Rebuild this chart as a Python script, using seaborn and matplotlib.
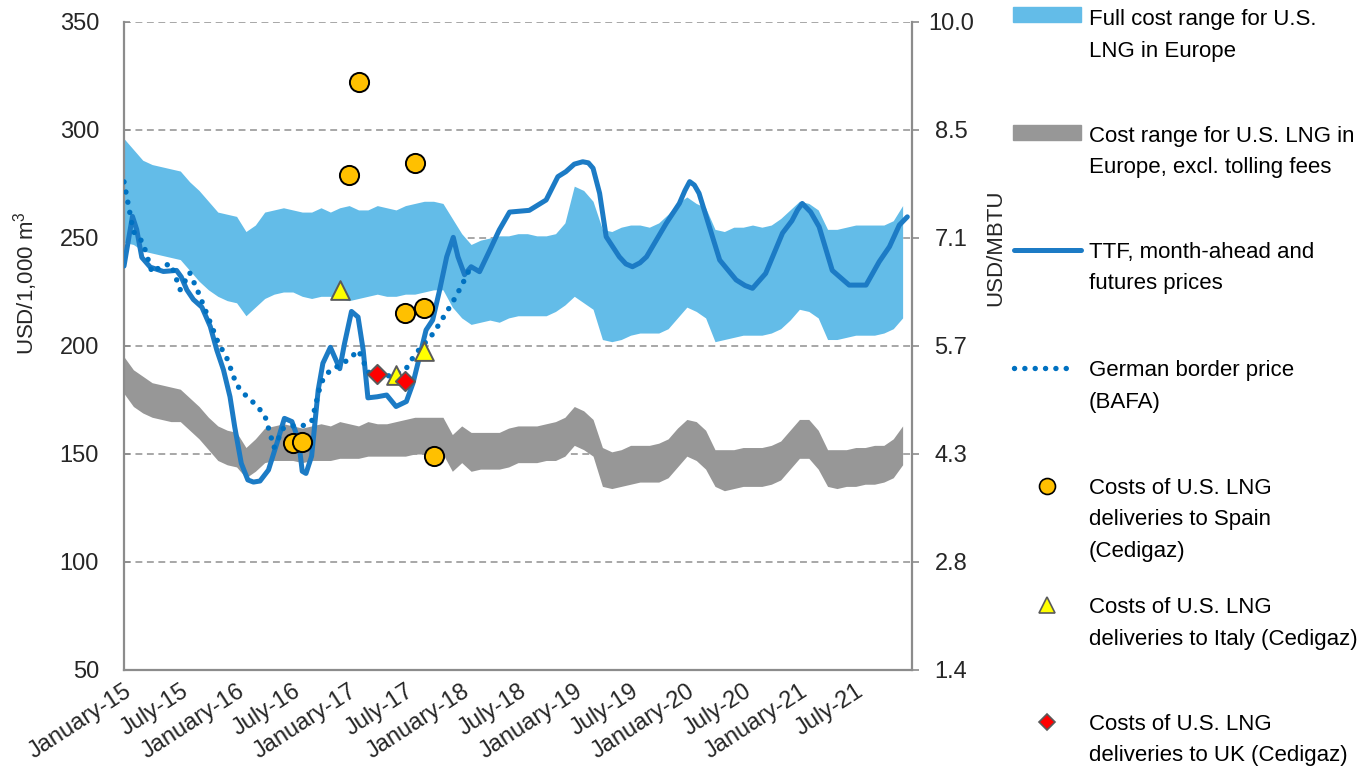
import numpy as np
import pandas as pd
import matplotlib
matplotlib.use('Agg')
import matplotlib.pyplot as plt
import seaborn as sns
from matplotlib import font_manager
from matplotlib.lines import Line2D
from matplotlib.patches import Rectangle

# month index: 0 = January 2015
band_month = list(range(84))

full_cost_high = [296, 291, 286, 284, 283, 282, 281, 276, 272, 267,
                  262, 261, 260, 253, 256, 262, 263, 264, 263, 262,
                  262, 264, 262, 264, 265, 263, 263, 265, 264, 263,
                  265, 266, 267, 267, 266, 259, 252, 247, 249, 250,
                  251, 251, 252, 252, 251, 251, 252, 257, 274, 272,
                  267, 254, 253, 255, 256, 256, 255, 257, 261, 266,
                  269, 266, 264, 254, 253, 255, 255, 256, 255, 256,
                  259, 263, 267, 266, 263, 254, 254, 255, 256, 256,
                  256, 256, 258, 265]
full_cost_low = [248, 247, 244, 243, 242, 241, 240, 235, 230, 226,
                 223, 221, 220, 214, 218, 222, 224, 225, 225, 223,
                 222, 223, 223, 222, 221, 222, 223, 224, 223, 223,
                 224, 224, 225, 226, 226, 218, 213, 210, 211, 212,
                 211, 213, 214, 214, 214, 214, 216, 219, 223, 220,
                 217, 203, 202, 203, 205, 206, 206, 206, 208, 213,
                 218, 216, 213, 202, 203, 204, 205, 205, 205, 206,
                 208, 212, 217, 216, 213, 203, 203, 204, 205, 205,
                 205, 206, 208, 213]
excl_toll_high = [195, 189, 186, 183, 182, 181, 180, 176, 172, 167,
                  163, 161, 160, 153, 157, 162, 163, 164, 163, 162,
                  163, 164, 163, 165, 164, 163, 165, 164, 164, 165,
                  166, 167, 167, 167, 167, 159, 163, 160, 160, 160,
                  160, 162, 163, 163, 163, 164, 165, 167, 172, 170,
                  166, 153, 151, 152, 154, 154, 154, 155, 157, 162,
                  166, 165, 161, 152, 152, 152, 153, 153, 153, 154,
                  156, 161, 166, 166, 161, 152, 152, 152, 153, 153,
                  154, 154, 157, 163]
excl_toll_low = [178, 172, 169, 167, 166, 165, 165, 161, 157, 152,
                 147, 145, 144, 139, 142, 146, 147, 147, 147, 146,
                 147, 147, 147, 148, 148, 148, 149, 149, 149, 149,
                 149, 150, 150, 150, 150, 142, 146, 142, 143, 143,
                 143, 144, 146, 146, 146, 147, 147, 149, 154, 152,
                 149, 135, 134, 135, 136, 137, 137, 137, 139, 144,
                 149, 147, 143, 135, 133, 134, 135, 135, 135, 136,
                 138, 143, 148, 148, 143, 135, 134, 135, 135, 136,
                 136, 137, 139, 145]

ttf_month = [0.0, 0.9, 1.35, 1.9, 2.8, 4.2, 5.6, 6.1, 6.7, 7.4, 8.3, 9.2, 9.9,
             10.6, 11.3, 11.8, 12.5, 13.2, 13.8, 14.5, 15.4, 16.3, 17.1, 17.9,
             18.6, 19.0, 19.4, 20.0, 20.7, 21.2, 22.0, 23.0, 23.5, 24.25,
             24.95, 25.5, 26.0, 27.0, 28.0, 29.0, 30.1, 30.8, 31.5, 32.2,
             32.9, 33.65, 34.4, 35.1, 35.6, 36.3, 37.0, 37.9, 39.0, 40.0,
             41.1, 43.2, 45.0, 46.25, 47.1, 48.0, 48.9, 49.5, 50.0, 50.7,
             51.4, 52.8, 53.5, 54.2, 55.0, 55.7, 57.8, 59.2, 59.8, 60.3,
             60.8, 61.3, 62.4, 63.5, 65.25, 66.2, 67.0, 68.4, 70.2, 71.2,
             71.8, 72.3, 73.2, 74.1, 75.5, 77.3, 79.1, 80.5, 81.6, 82.65, 83.5]
ttf_price = [237, 260, 254, 241, 236.5, 234.5, 235, 232, 226, 221.5, 218, 209, 198,
             189, 176.5, 162.6, 145.7, 138, 137, 137.5, 142.6, 155, 166.5, 165,
             156.5, 142, 141, 149, 179.6, 192, 199.4, 189.5, 201, 216,
             213.4, 198, 176, 176.5, 177.3, 172, 174.3, 182.7, 195, 207.4,
             212, 226, 241.3, 250.3, 241.3, 233, 236.7, 234.4, 244.4, 253.7,
             262, 262.8, 267.6, 278.4, 280.7, 284.2, 285.3, 284.8, 282.3, 270.7,
             250.6, 241.3, 238, 236.7, 238.5, 241.3, 256.8, 266, 272, 276.1,
             274.5, 270.7, 255.2, 239.8, 230.6, 228, 226.7, 233.6, 252.3, 258,
             263, 266, 262, 255.2, 235, 228.2, 228.2, 239, 246, 256, 259.8]

bafa_month = list(range(38))
bafa_price = [276, 253, 248, 234, 237, 238, 226, 234, 224, 213,
              202, 194, 182, 177, 173, 168, 153, 162, 163, 163,
              165, 183, 189, 191, 194, 198, 188, 186, 186, 187,
              189, 196, 201, 206, 213, 220, 228, 237]

spain_month = [18, 19, 24, 25, 30, 31, 32, 33]
spain_cost = [154.9, 155.4, 279.2, 322.2, 215.5, 284.6, 217.4, 149.1]
italy_month = [23, 29, 32]
italy_cost = [226.1, 186.5, 197.5]
uk_month = [27, 30]
uk_cost = [187.0, 183.8]

tick_month = list(range(0, 85, 6))
tick_labels = ['January-15', 'July-15', 'January-16', 'July-16', 'January-17',
               'July-17', 'January-18', 'July-18', 'January-19', 'July-19',
               'January-20', 'July-20', 'January-21', 'July-21', '']
left_ticks = [50, 100, 150, 200, 250, 300, 350]
right_labels = ['1.4', '2.8', '4.3', '5.7', '7.1', '8.5', '10.0']

legend_labels = [
    ['Full cost range for U.S.', 'LNG in Europe'],
    ['Cost range for U.S. LNG in', 'Europe, excl. tolling fees'],
    ['TTF, month-ahead and', 'futures prices'],
    ['German border price', '(BAFA)'],
    ['Costs of U.S. LNG', 'deliveries to Spain', '(Cedigaz)'],
    ['Costs of U.S. LNG', 'deliveries to Italy (Cedigaz)'],
    ['Costs of U.S. LNG', 'deliveries to UK (Cedigaz)'],
]

light_blue = '#63BCE8'
band_gray = '#979797'
ttf_blue = '#1C7BC5'
bafa_blue = '#0071C1'
axis_gray = '#8C8C8C'


def pick_font():
    for fam in ['Liberation Sans Narrow', 'Arial Narrow']:
        try:
            font_manager.findfont(font_manager.FontProperties(family=fam),
                                  fallback_to_default=False)
            return fam, 20, 20
        except ValueError:
            pass
    return 'Liberation Sans', 16, 17


sns.set_style('white')
font_name, fsize, tsize = pick_font()
plt.rcParams['font.family'] = [font_name, 'DejaVu Sans']
plt.rcParams['font.size'] = fsize
plt.rcParams['mathtext.fontset'] = 'custom'
plt.rcParams['mathtext.rm'] = font_name

W, H = 1365, 770
fig = plt.figure(figsize=(W / 100, H / 100), dpi=100)
ax = fig.add_axes([124 / W, 1 - 670 / H, (912 - 124) / W, (670 - 22) / H])

bands = pd.DataFrame({'month': band_month,
                      'full_high': full_cost_high, 'full_low': full_cost_low,
                      'excl_high': excl_toll_high, 'excl_low': excl_toll_low})
ax.fill_between(bands['month'], bands['full_low'], bands['full_high'],
                color=light_blue, lw=0, zorder=2)
ax.fill_between(bands['month'], bands['excl_low'], bands['excl_high'],
                color=band_gray, lw=0, zorder=2)

sns.lineplot(x=ttf_month, y=ttf_price, ax=ax, color=ttf_blue, lw=3.6,
             solid_joinstyle='round', solid_capstyle='round', zorder=3)
sns.lineplot(x=bafa_month, y=bafa_price, ax=ax, color=bafa_blue, lw=3.9,
             linestyle=(0, (0.01, 1.9)), dash_capstyle='round', zorder=4)

sns.scatterplot(x=spain_month, y=spain_cost, ax=ax, marker='o', s=13.8 ** 2,
                color='#FFC000', edgecolor='black', linewidth=1.4, zorder=5)
sns.scatterplot(x=italy_month, y=italy_cost, ax=ax, marker='^', s=13.5 ** 2,
                color='#FFFF00', edgecolor='#5A5A5A', linewidth=1.4, zorder=5)
sns.scatterplot(x=uk_month, y=uk_cost, ax=ax, marker='D', s=9.8 ** 2,
                color='#FF0000', edgecolor='#5A5A5A', linewidth=1.4, zorder=6)

ax.set_xlim(0, 84)
ax.set_ylim(50, 350)
ax.set_xticks(tick_month)
ax.set_xticklabels(tick_labels, rotation=33, ha='right', va='top',
                   rotation_mode='anchor')
ax.set_xticks(list(range(12, 84, 12)), minor=True)
ax.set_yticks(left_ticks)
ax.tick_params(axis='x', which='major', direction='out', length=4.5, width=1.2,
               color=axis_gray, pad=3, labelsize=tsize)
ax.tick_params(axis='x', which='minor', length=0)
ax.tick_params(axis='y', direction='in', length=4, width=1.2, color=axis_gray,
               pad=18, labelsize=tsize)
ax.grid(False)
ax.grid(axis='y', which='major', color='#8F8F8F', ls=(0, (4.5, 3)), lw=1.1, zorder=0)
ax.grid(axis='x', which='minor', color='#BDBDBD', ls=(0, (4.5, 3)), lw=1.1, zorder=0)
ax.set_axisbelow(True)
for side in ['top', 'right']:
    ax.spines[side].set_visible(False)
for side in ['left', 'bottom']:
    ax.spines[side].set_color(axis_gray)
    ax.spines[side].set_linewidth(1.6)
ax.set_xlabel('')
ax.set_ylabel('USD/1,000 m$^3$', fontsize=fsize)
ax.yaxis.set_label_coords(-0.107, 0.597)

ax2 = ax.twinx()
ax2.set_ylim(50, 350)
ax2.set_yticks(left_ticks)
ax2.set_yticklabels(right_labels)
for t in ax2.get_yticklabels():
    t.set_horizontalalignment('center')
ax2.tick_params(axis='y', direction='out', length=5, width=1.2, color=axis_gray,
                pad=23, labelsize=tsize)
for side in ['top', 'left', 'bottom']:
    ax2.spines[side].set_visible(False)
ax2.spines['right'].set_color(axis_gray)
ax2.spines['right'].set_linewidth(1.6)
ax2.grid(False)
ax2.set_ylabel('USD/MBTU', fontsize=fsize)
ax2.yaxis.set_label_coords(1.093, 0.651)


# legend, drawn in figure pixels
def fx(x):
    return x / W


def fy(y):
    return 1 - y / H


handle_y = [14.5, 132.5, 249.5, 368, 486, 605, 722]
base_y = [25, 142, 258, 376, 494, 613, 730]
fig.add_artist(Rectangle((fx(1013), fy(22)), fx(68), 15 / H, color=light_blue,
                         transform=fig.transFigure))
fig.add_artist(Rectangle((fx(1013), fy(140)), fx(68), 15 / H, color=band_gray,
                         transform=fig.transFigure))
fig.add_artist(Line2D([fx(1014), fx(1081)], [fy(handle_y[2])] * 2, color=ttf_blue,
                      lw=3.6, solid_capstyle='round', transform=fig.transFigure))
fig.add_artist(Line2D([fx(1014), fx(1076)], [fy(handle_y[3])] * 2, color=bafa_blue,
                      lw=3.9, ls=(0, (0.01, 1.9)), dash_capstyle='round',
                      transform=fig.transFigure))
fig.add_artist(Line2D([fx(1047)], [fy(handle_y[4])], marker='o', ms=11.5,
                      mfc='#FFC000', mec='black', mew=1.2, ls='none',
                      transform=fig.transFigure))
fig.add_artist(Line2D([fx(1047)], [fy(handle_y[5])], marker='^', ms=12,
                      mfc='#FFFF00', mec='#5A5A5A', mew=1.2, ls='none',
                      transform=fig.transFigure))
fig.add_artist(Line2D([fx(1047)], [fy(handle_y[6])], marker='D', ms=8.5,
                      mfc='#FF0000', mec='#5A5A5A', mew=1.2, ls='none',
                      transform=fig.transFigure))
for lines, y0 in zip(legend_labels, base_y):
    for i, line in enumerate(lines):
        fig.text(fx(1089), fy(y0 + i * 31.5), line, ha='left', va='baseline',
                 fontsize=fsize, color='black')

fig.savefig('out.png', dpi=100)
